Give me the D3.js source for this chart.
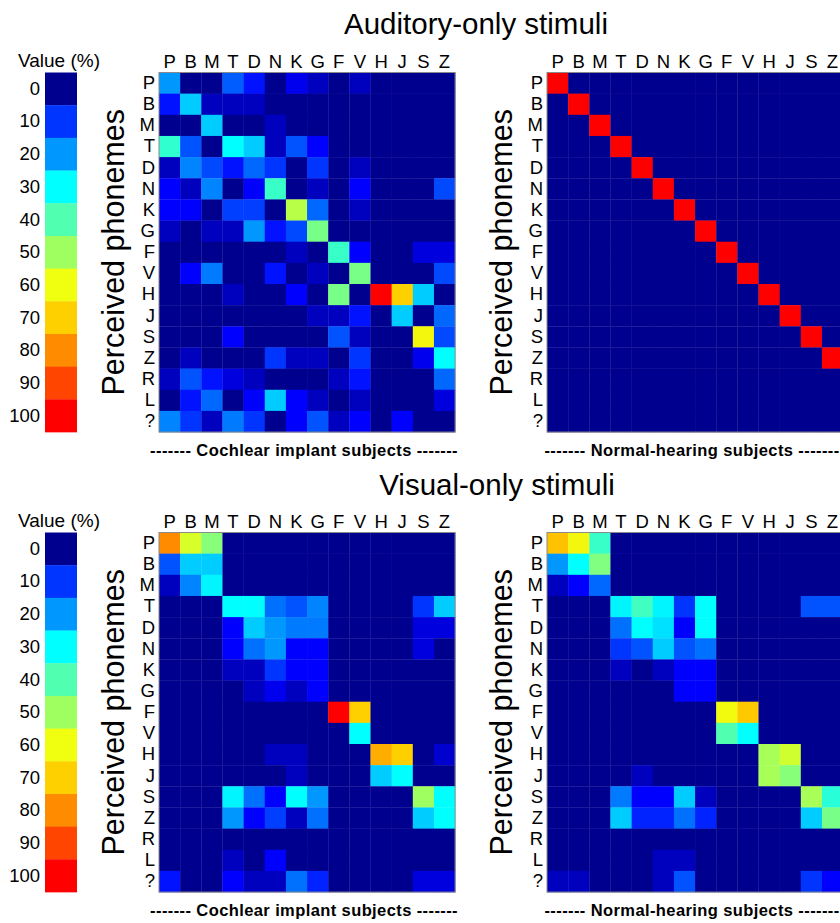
<!DOCTYPE html>
<html><head><meta charset="utf-8">
<script src="https://cdn.jsdelivr.net/npm/d3@7"></script>
<style>body{margin:0;background:#fff}svg{display:block;font-family:"Liberation Sans",Arial,sans-serif}</style>
</head><body><svg id="c" width="840" height="923"></svg>
<script>
const colLabels = ["P","B","M","T","D","N","K","G","F","V","H","J","S","Z"];
const rowLabels = ["P","B","M","T","D","N","K","G","F","V","H","J","S","Z","R","L","?"];
const colorbarTicks = [0,10,20,30,40,50,60,70,80,90,100];
const colorStops = [0,7,10,20,30,40,50,60,70,80,90,100];
const colorRange = ["#00008f","#0000ff","#0035ff","#0098ff","#00ffff","#50ffb0","#a0ff60","#f0ff10","#ffd000","#ff8c00","#ff4500","#ff0000"];

const auditoryCI = [
[20,0,0,14,8,0,6,3,0,3,0,0,0,0],
[8,25,3,3,3,0,0,0,0,0,0,0,0,0],
[0,0,25,0,0,3,0,0,0,0,0,0,0,0],
[36,13,0,30,25,3,13,7,0,0,0,0,0,0],
[3,18,12,8,15,10,0,10,0,3,0,0,0,0],
[7,3,18,0,7,37,0,3,0,7,0,0,0,12],
[7,7,0,11,11,0,53,15,0,3,0,0,0,0],
[3,0,3,3,20,8,12,45,0,0,0,0,0,0],
[0,0,0,0,0,0,3,0,37,7,0,0,5,5],
[0,7,17,0,0,8,0,3,0,45,0,0,0,12],
[0,0,0,3,0,0,7,0,45,0,100,70,25,0],
[0,0,0,0,0,0,0,3,3,8,0,25,0,15],
[0,0,0,7,0,0,0,0,13,3,0,0,62,12],
[0,3,0,0,0,10,3,3,0,10,0,0,6,30],
[3,13,8,5,3,0,0,0,3,8,0,0,0,15],
[0,8,15,0,7,25,7,3,0,3,0,0,0,5],
[18,10,3,17,10,0,7,13,3,7,0,7,0,0]
];
const auditoryNH = [
[100,0,0,0,0,0,0,0,0,0,0,0,0,0],
[0,100,0,0,0,0,0,0,0,0,0,0,0,0],
[0,0,100,0,0,0,0,0,0,0,0,0,0,0],
[0,0,0,100,0,0,0,0,0,0,0,0,0,0],
[0,0,0,0,100,0,0,0,0,0,0,0,0,0],
[0,0,0,0,0,100,0,0,0,0,0,0,0,0],
[0,0,0,0,0,0,100,0,0,0,0,0,0,0],
[0,0,0,0,0,0,0,100,0,0,0,0,0,0],
[0,0,0,0,0,0,0,0,100,0,0,0,0,0],
[0,0,0,0,0,0,0,0,0,100,0,0,0,0],
[0,0,0,0,0,0,0,0,0,0,100,0,0,0],
[0,0,0,0,0,0,0,0,0,0,0,100,0,0],
[0,0,0,0,0,0,0,0,0,0,0,0,100,0],
[0,0,0,0,0,0,0,0,0,0,0,0,0,100],
[0,0,0,0,0,0,0,0,0,0,0,0,0,0],
[0,0,0,0,0,0,0,0,0,0,0,0,0,0],
[0,0,0,0,0,0,0,0,0,0,0,0,0,0]
];
const visualCI = [
[80,57,47,0,0,0,0,0,0,0,0,0,0,0],
[13,25,25,0,0,0,0,0,0,0,0,0,0,0],
[3,18,29,0,0,0,0,0,0,0,0,0,0,0],
[0,0,0,30,30,16,13,18,0,0,0,0,10,25],
[0,0,0,7,25,20,17,17,0,0,0,0,5,5],
[0,0,0,7,16,20,7,7,0,0,0,0,5,0],
[0,0,0,3,3,10,7,7,0,0,0,0,0,0],
[0,0,0,0,3,6,3,7,0,0,0,0,0,0],
[0,0,0,0,0,0,0,0,100,70,0,0,0,0],
[0,0,0,0,0,0,0,0,0,30,0,0,0,0],
[0,0,0,0,0,3,3,0,0,0,75,70,0,4],
[0,0,0,0,0,0,3,0,0,0,25,30,0,0],
[0,0,0,29,16,7,30,20,0,0,0,0,50,30],
[0,0,0,20,7,11,3,16,0,0,0,0,25,30],
[0,0,0,0,0,0,0,0,0,0,0,0,0,0],
[0,0,0,3,0,7,0,0,0,0,0,0,0,0],
[8,0,0,7,3,3,16,9,0,0,0,0,5,5]
];
const visualNH = [
[72,62,37,0,0,0,0,0,0,0,0,0,0,0],
[20,30,46,0,0,0,0,0,0,0,0,0,0,0],
[3,7,15,0,0,0,0,0,0,0,0,0,0,0],
[0,0,0,29,38,29,10,30,0,0,0,0,13,13],
[0,0,0,16,30,27,7,30,0,0,0,0,0,0],
[0,0,0,10,13,25,13,16,0,0,0,0,0,0],
[0,0,0,3,0,3,7,7,0,0,0,0,0,0],
[0,0,0,0,0,0,7,7,0,0,0,0,0,0],
[0,0,0,0,0,0,0,0,61,71,0,0,0,0],
[0,0,0,0,0,0,0,0,40,30,0,0,0,0],
[0,0,0,0,0,0,0,0,0,0,51,56,0,0],
[0,0,0,0,3,0,0,0,0,0,51,47,0,0],
[0,0,0,17,7,7,25,3,0,0,0,0,51,35],
[0,0,0,25,9,9,16,9,0,0,0,0,25,45],
[0,0,0,0,0,0,0,0,0,0,0,0,0,0],
[0,0,0,0,0,3,3,0,0,0,0,0,0,0],
[3,3,0,0,0,3,13,0,0,0,0,0,10,7]
];
const titles = ["Auditory-only stimuli","Visual-only stimuli"];
const subtitles = ["------- Cochlear implant subjects -------","------- Normal-hearing subjects -------"];

const svg = d3.select("#c");
const color = d3.scaleLinear().domain(colorStops).range(colorRange).clamp(true);
const cell = 21.15;
const W = cell*colLabels.length, H = cell*rowLabels.length;
const lefts = [159, 547];
const tops = [72.5, 532.5];
const titleX = [476, 497];
const titleY = [34, 495];

const x = d3.scaleBand().domain(colLabels).range([0, W]);
const y = d3.scaleBand().domain(rowLabels).range([0, H]);

function heatmap(g, mat){
  const cells = [];
  mat.forEach((row,i)=>row.forEach((v,j)=>cells.push({r:rowLabels[i],c:colLabels[j],v})));
  g.selectAll("rect.cell").data(cells).join("rect").attr("class","cell")
    .attr("x",d=>x(d.c)).attr("y",d=>y(d.r))
    .attr("width",x.bandwidth()+0.3).attr("height",y.bandwidth()+0.3)
    .attr("fill",d=>color(d.v));
  g.append("rect").attr("width",W).attr("height",H).attr("fill","none").attr("stroke","#8a8a8a").attr("stroke-width",1);
  const xa = d3.axisTop(x).tickSize(0).tickPadding(5);
  g.append("g").call(xa).call(a=>a.select(".domain").remove())
    .selectAll("text").attr("font-size",18.5).attr("fill","#000").attr("font-family","Liberation Sans, Arial");
  const ya = d3.axisLeft(y).tickSize(0).tickPadding(4);
  g.append("g").call(ya).call(a=>a.select(".domain").remove())
    .selectAll("text").attr("font-size",18.5).attr("fill","#000").attr("font-family","Liberation Sans, Arial");
  g.append("text").attr("transform",`translate(-35,${H/2}) rotate(-90)`)
    .attr("text-anchor","middle").attr("font-size",30.5).text("Perceived phonemes");
}

function colorbar(top){
  const cb = svg.append("g").attr("transform",`translate(45,${top})`);
  const yb = d3.scaleBand().domain(colorbarTicks).range([0,H]);
  cb.selectAll("rect").data(colorbarTicks).join("rect")
    .attr("x",0).attr("y",d=>yb(d)).attr("width",32).attr("height",yb.bandwidth()+0.3)
    .attr("fill",d=>color(d));
  cb.append("g").call(d3.axisLeft(yb).tickSize(0).tickPadding(5))
    .call(a=>a.select(".domain").remove())
    .selectAll("text").attr("font-size",18.5).attr("fill","#000").attr("font-family","Liberation Sans, Arial");
  cb.append("text").attr("x",-27).attr("y",-6).attr("font-size",19).text("Value (%)");
}

const mats = [[auditoryCI, auditoryNH],[visualCI, visualNH]];
for(let r=0;r<2;r++){
  svg.append("text").attr("x",titleX[r]).attr("y",titleY[r]).attr("text-anchor","middle")
    .attr("font-size",29.5).text(titles[r]);
  colorbar(tops[r]);
  for(let c=0;c<2;c++){
    const g = svg.append("g").attr("transform",`translate(${lefts[c]},${tops[r]})`);
    heatmap(g, mats[r][c]);
    svg.append("text").attr("x",lefts[c]+W/2 - 3).attr("y",tops[r]+H+24).attr("text-anchor","middle")
      .attr("font-size",16.5).attr("font-weight","bold").attr("letter-spacing",0.4).text(subtitles[c]);
  }
}
</script></body></html>
